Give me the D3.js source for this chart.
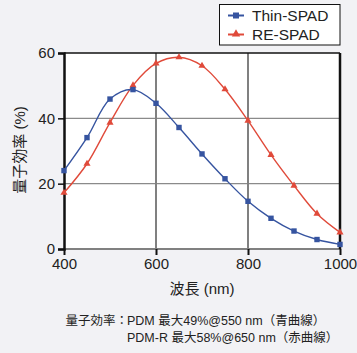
<!DOCTYPE html>
<html><head><meta charset="utf-8">
<script src="https://cdn.jsdelivr.net/npm/d3@7"></script>
<style>
html,body{margin:0;padding:0;background:#f2f2f5;}
svg{display:block;}
text{font-family:"Liberation Sans","Noto Sans CJK JP",Arial,sans-serif;fill:#222;}
</style></head><body>
<svg id="c" width="357" height="353"></svg>
<script>
const wavelengths = [400,450,500,550,600,650,700,750,800,850,900,950,1000];
const thinSpad = [24,34.1,45.9,48.8,44.6,37.2,29.1,21.5,14.6,9.4,5.5,2.9,1.4];
const reSpad = [17.2,26.1,38.7,50.1,56.8,58.7,56.1,48.9,39.3,28.8,19.4,10.8,5.1];
const xTicks = [400,600,800,1000];
const yTicks = [0,20,40,60];
const seriesNames = ["Thin-SPAD","RE-SPAD"];
const xTitle = "波長 (nm)";
const yTitle = "量子効率 (%)";
const noteLabel = "量子効率：";
const notes = ["PDM 最大49%@550 nm（青曲線）","PDM-R 最大58%@650 nm（赤曲線）"];

const svg = d3.select("#c");
const L=64,R=340,T=53,B=249;
const x = d3.scaleLinear().domain([400,1000]).range([L,R]);
const y = d3.scaleLinear().domain([0,60]).range([B,T]);

svg.append("rect").attr("x",L).attr("y",T).attr("width",R-L).attr("height",B-T).attr("fill","#fff");

// grid
svg.append("g").selectAll("line").data([20,40]).join("line")
  .attr("x1",L).attr("x2",R).attr("y1",d=>y(d)).attr("y2",d=>y(d))
  .attr("stroke","#8a8a8a").attr("stroke-width",1.2);
svg.append("g").selectAll("line").data([600,800]).join("line")
  .attr("x1",d=>x(d)).attr("x2",d=>x(d)).attr("y1",T).attr("y2",B)
  .attr("stroke","#808080").attr("stroke-width",2);
svg.append("line").attr("x1",L).attr("x2",R).attr("y1",B).attr("y2",B).attr("stroke","#808080").attr("stroke-width",2);
svg.append("line").attr("x1",L).attr("x2",R).attr("y1",T).attr("y2",T).attr("stroke","#111").attr("stroke-width",1.5);
svg.append("line").attr("x1",R).attr("x2",R).attr("y1",T).attr("y2",B).attr("stroke","#111").attr("stroke-width",2.5);

// axes
const yAxis = svg.append("g").attr("transform",`translate(${L},0)`)
  .call(d3.axisLeft(y).tickValues(yTicks).tickSize(6).tickPadding(3).tickFormat(d3.format("d")));
yAxis.select(".domain").attr("stroke","#111").attr("stroke-width",2.5);
yAxis.selectAll(".tick line").attr("stroke","#111").attr("stroke-width",1.5);
yAxis.selectAll("text").attr("font-size",15).attr("fill","#222");

const xAxis = svg.append("g").attr("transform",`translate(0,${B})`)
  .call(d3.axisBottom(x).tickValues(xTicks).tickSize(6).tickPadding(3).tickFormat(d3.format("d")));
xAxis.select(".domain").remove();
xAxis.selectAll(".tick line").attr("stroke","#111").attr("stroke-width",2);
xAxis.selectAll("text").attr("font-size",15).attr("fill","#222");

// lines
const blue="#3654a0", red="#e04a3a";
const line = d3.line().x((d,i)=>x(wavelengths[i])).y(d=>y(d)).curve(d3.curveCatmullRom.alpha(0.5));
svg.append("path").datum(reSpad).attr("d",line).attr("fill","none").attr("stroke",red).attr("stroke-width",1.4);
svg.append("path").datum(thinSpad).attr("d",line).attr("fill","none").attr("stroke",blue).attr("stroke-width",1.4);

const tri = d3.symbol().type(d3.symbolTriangle).size(22);
svg.append("g").selectAll("path").data(reSpad).join("path")
  .attr("d",tri).attr("transform",(d,i)=>`translate(${x(wavelengths[i])},${y(d)})`).attr("fill",red);
svg.append("g").selectAll("rect").data(thinSpad).join("rect")
  .attr("x",(d,i)=>x(wavelengths[i])-2.7).attr("y",d=>y(d)-2.7).attr("width",5.4).attr("height",5.4).attr("fill",blue);

// legend
svg.append("rect").attr("x",219.5).attr("y",4.5).attr("width",120.5).attr("height",40.5)
  .attr("fill","#fff").attr("stroke","#111").attr("stroke-width",1);
const lg = svg.append("g");
[[blue,"sq"],[red,"tri"]].forEach((s,i)=>{
  const cy = 15.5 + i*19;
  lg.append("line").attr("x1",228).attr("x2",244).attr("y1",cy).attr("y2",cy).attr("stroke",s[0]).attr("stroke-width",2);
  if(s[1]==="sq") lg.append("rect").attr("x",233).attr("y",cy-3).attr("width",6).attr("height",6).attr("fill",s[0]);
  else lg.append("path").attr("d",d3.symbol().type(d3.symbolTriangle).size(30)).attr("transform",`translate(236,${cy-0.5})`).attr("fill",s[0]);
  lg.append("text").attr("x",252).attr("y",cy+5.5).attr("font-size",15.5).text(seriesNames[i]);
});

// titles
svg.append("text").attr("x",202).attr("y",294).attr("text-anchor","middle").attr("font-size",15).text(xTitle);
svg.append("text").attr("transform","translate(25,150) rotate(-90)").attr("text-anchor","middle").attr("font-size",15).text(yTitle);
svg.append("text").attr("x",128).attr("y",325).attr("text-anchor","end").attr("font-size",12.5).attr("fill","#333").text(noteLabel);
svg.append("text").attr("x",127).attr("y",325).attr("font-size",12.5).attr("fill","#333").text(notes[0]);
svg.append("text").attr("x",127).attr("y",342).attr("font-size",12.5).attr("fill","#333").text(notes[1]);
</script>
</body></html>
